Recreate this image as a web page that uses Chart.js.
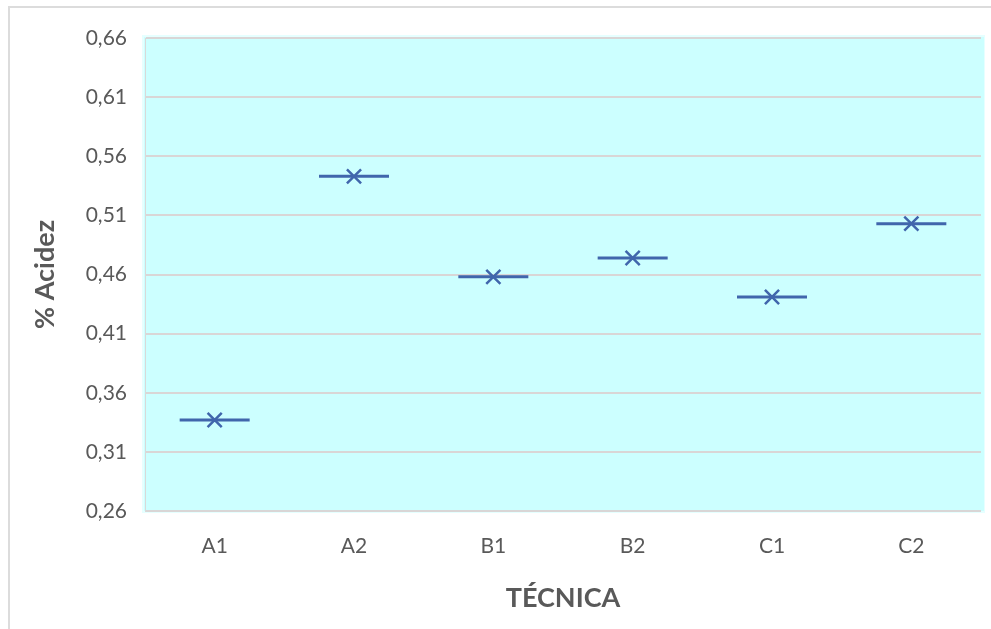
<!DOCTYPE html>
<html>
<head>
<meta charset="utf-8">
<script src="https://cdn.jsdelivr.net/npm/chart.js@4/dist/chart.umd.min.js"></script>
<style>
  html, body { margin: 0; padding: 0; background: #ffffff; overflow: hidden; }
  #wrap { position: relative; width: 991px; height: 629px; overflow: hidden; }
  #frame { position: absolute; left: 8px; top: 6px; width: 1100px; height: 700px; border: 2px solid #DCDCDC; box-sizing: border-box; }
  canvas { position: absolute; left: 0; top: 0; }
</style>
</head>
<body>
<div id="wrap">
  <div id="frame"></div>
  <canvas id="c" width="1019" height="629"></canvas>
</div>
<script>
const categories = ['A1', 'A2', 'B1', 'B2', 'C1', 'C2'];
const acidez = [0.337, 0.543, 0.458, 0.474, 0.441, 0.503];
const yMin = 0.26;
const yMax = 0.66;
const yStep = 0.05;
const xTitle = 'TÉCNICA';
const yTitle = '% Acidez';

const markerColor = '#4066AC';
const textColor = '#595959';

const bgPlugin = {
  id: 'plotBg',
  beforeDraw(chart) {
    const { ctx, chartArea: a } = chart;
    ctx.save();
    ctx.fillStyle = '#E6FFFF';
    ctx.fillRect(a.left - 3, a.top - 3, a.right - a.left + 7, a.bottom - a.top + 5);
    ctx.fillStyle = '#CCFFFF';
    ctx.fillRect(a.left - 1, a.top - 1, a.right - a.left + 4, a.bottom - a.top + 1);
    ctx.restore();
  }
};

new Chart(document.getElementById('c'), {
  type: 'line',
  data: {
    labels: categories,
    datasets: [
      {
        data: acidez,
        showLine: false,
        pointStyle: 'line',
        pointRadius: 35,
        pointHoverRadius: 35,
        pointBorderWidth: 3,
        borderColor: markerColor,
        backgroundColor: markerColor
      },
      {
        data: acidez,
        showLine: false,
        pointStyle: 'crossRot',
        pointRadius: 10,
        pointHoverRadius: 10,
        pointBorderWidth: 2.5,
        borderColor: markerColor,
        backgroundColor: markerColor
      }
    ]
  },
  options: {
    responsive: false,
    animation: false,
    events: [],
    layout: { padding: { left: 0, top: 37, right: 8, bottom: 0 } },
    plugins: { legend: { display: false }, tooltip: { enabled: false } },
    scales: {
      x: {
        type: 'category',
        offset: true,
        grid: { display: false, drawTicks: false },
        border: { display: false },
        ticks: {
          padding: 23,
          color: textColor,
          font: { family: 'Lato', size: 21 }
        },
        title: {
          display: true,
          text: xTitle,
          color: textColor,
          font: { family: 'Lato', size: 27, weight: 'bold' },
          padding: { top: 0, bottom: 15 }
        },
        afterFit(scale) {
          scale.height = 118;
        }
      },
      y: {
        min: yMin,
        max: yMax,
        grid: { color: '#D9D6D6', lineWidth: 2, drawTicks: false },
        border: { display: true, color: '#D9D9D9', width: 1 },
        ticks: {
          stepSize: yStep,
          padding: 18,
          color: textColor,
          font: { family: 'Lato', size: 21 },
          callback: (v) => v.toFixed(2).replace('.', ',')
        },
        title: {
          display: true,
          text: yTitle,
          color: textColor,
          font: { family: 'Lato', size: 27, weight: 'bold' },
          padding: { top: 29, bottom: 0 }
        },
        afterFit(scale) {
          scale.width = 145;
        }
      }
    }
  },
  plugins: [bgPlugin]
});
</script>
</body>
</html>
